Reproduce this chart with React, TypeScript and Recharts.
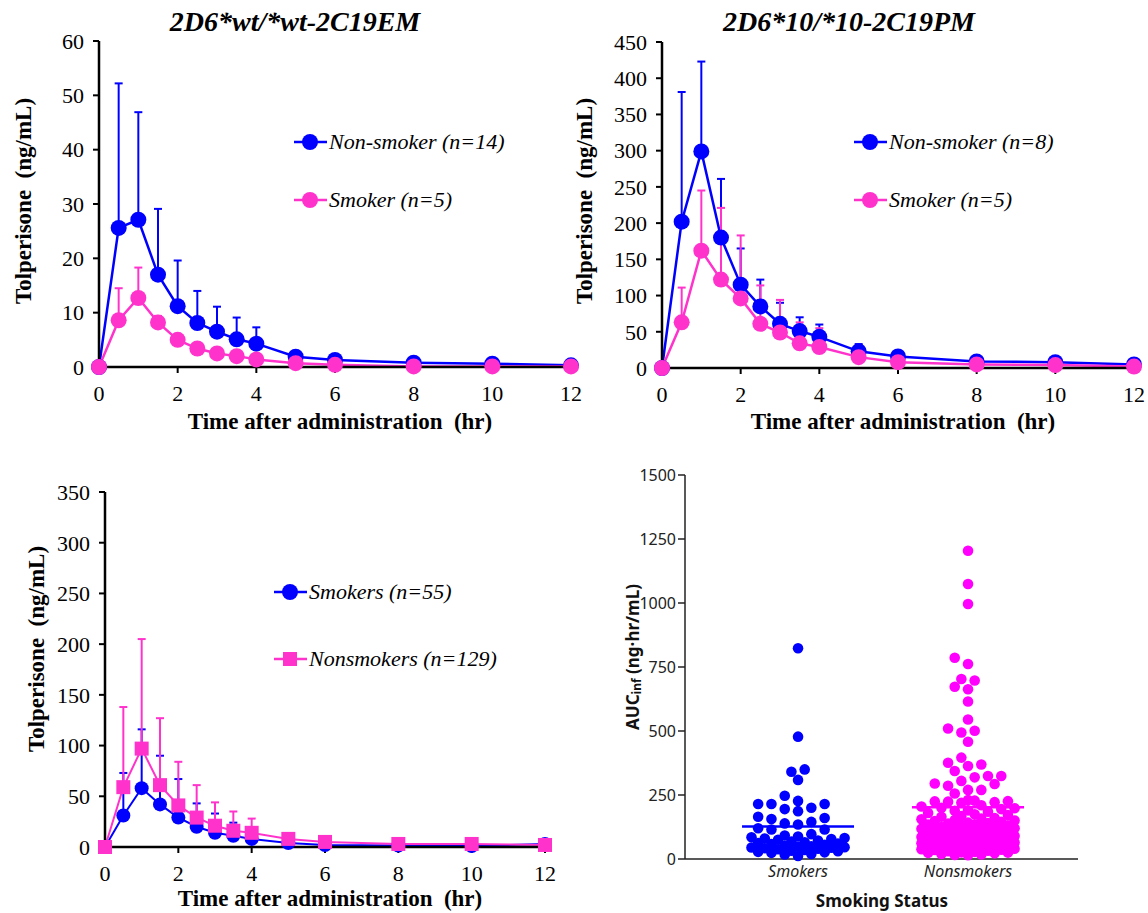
import React from "react";
import {
  LineChart,
  Line,
  XAxis,
  YAxis,
  ErrorBar,
  ScatterChart,
  Scatter,
  ReferenceLine,
  Label,
} from "recharts";

const serif = '"Liberation Serif", "Times New Roman", serif';
const sans = '"Noto Sans", "DejaVu Sans", sans-serif';
const BLUE = "#0000ff";
const PINK = "#ff33cc";
const MAGENTA = "#ff00ff";

// sampling times (hr)
const times = [0, 0.5, 1, 1.5, 2, 2.5, 3, 3.5, 4, 5, 6, 8, 10, 12];
const hourTicks = [0, 2, 4, 6, 8, 10, 12];

// 2D6*wt/*wt-2C19EM
const emNonSmokerMean = [0, 25.6, 27.1, 17.0, 11.2, 8.1, 6.5, 5.1, 4.3, 1.9, 1.3, 0.8, 0.6, 0.3];
const emNonSmokerSd = [0, 26.6, 19.8, 12.1, 8.4, 5.9, 4.6, 4.0, 3.0, 0.9, 0.5, 0.3, 0.2, 0.1];
const emSmokerMean = [0, 8.6, 12.7, 8.2, 5.0, 3.4, 2.5, 2.0, 1.4, 0.7, 0.4, 0.1, 0.1, 0.1];
const emSmokerSd = [0, 5.9, 5.6, 1.2, 1.0, 0.8, 0.6, 0.5, 0.4, 0.2, 0.2, 0.1, 0.1, 0.1];

// 2D6*10/*10-2C19PM
const pmNonSmokerMean = [0, 202, 299, 180, 115, 85, 61, 51, 43, 23, 16, 9, 8, 5];
const pmNonSmokerSd = [0, 179, 124, 81, 50, 37, 29, 19, 17, 10, 4, 3, 2, 2];
const pmSmokerMean = [0, 63, 162, 122, 96, 61, 49, 34, 29, 15, 8, 5, 4, 2];
const pmSmokerSd = [0, 48, 83, 99, 87, 53, 45, 29, 26, 6, 3, 2, 1, 1];

// all subjects
const allSmokerMean = [0, 31, 58, 42, 29, 20, 14, 11, 8, 4, 2, 1.5, 1, 3];
const allSmokerSd = [0, 42, 58, 48, 38, 23, 19, 13, 9, 3, 2, 1, 1, 1];
const allNonSmokerMean = [0, 59, 97, 61, 41, 29, 21, 16, 14, 8, 5, 3, 3, 2];
const allNonSmokerSd = [0, 79, 108, 66, 43, 32, 23, 19, 14, 5, 3, 2, 2, 1];

// AUCinf per subject (ng·hr/mL)
const smokerAuc = [
  823, 478, 341, 350, 309, 247, 215, 215, 195, 187, 200, 215, 227, 165, 160, 156, 139, 120, 115, 115, 135, 145,
  97, 92, 88, 85, 82, 80, 78, 75, 72, 68, 65, 62, 60, 58, 55, 52, 50, 48, 46, 45, 44, 42, 40, 38, 35, 32, 30,
  28, 26, 24, 20, 18, 12,
];
const nonsmokerAuc = [
  1204, 1074, 996, 786, 762, 697, 703, 673, 663, 615, 545, 501, 510, 494, 458, 396, 369, 363, 376, 344, 324, 305,
  293, 286, 295, 319, 324, 270, 270, 256,
  228, 225, 222, 220, 224, 226, 230, 205, 200, 210, 198, 195, 190, 185, 180, 188, 172, 168, 165, 175, 160, 158,
  155, 152, 150, 148, 145, 142, 140, 138, 136, 135, 132, 130, 128, 125, 124, 122, 120, 118, 116, 114, 112, 110,
  108, 106, 104, 102, 100, 98, 96, 95, 92, 90, 88, 86, 85, 84, 82, 80, 78, 76, 75, 74, 72, 70, 68, 66, 65, 64,
  62, 60, 58, 56, 55, 54, 52, 50, 48, 47, 46, 45, 44, 42, 40, 38, 36, 35, 32, 30, 28, 26, 25, 24, 22, 20, 18,
  16, 15,
];
const groupNames = ["Smokers", "Nonsmokers"];
const aucTicks = [0, 250, 500, 750, 1000, 1250, 1500];

const buildRows = (aMean: number[], aSd: number[], bMean: number[], bSd: number[]) =>
  times.map((t, i) => ({ t, a: aMean[i], aErr: [0, aSd[i]], b: bMean[i], bErr: [0, bSd[i]] }));

const mean = (v: number[]) => v.reduce((s, x) => s + x, 0) / v.length;

// simple beeswarm on a half-column grid, offsets in px
function swarm(values: number[], pxPerValue: number, minDist: number, step: number, maxOff: number) {
  const order = values.map((v, i) => ({ v, i })).sort((p, q) => p.v - q.v);
  const placed: { x: number; y: number }[] = [];
  const out = new Array(values.length).fill(0);
  order.forEach(({ v, i }, n) => {
    const y = v * pxPerValue;
    let best = 0;
    let bestD = -1;
    const cands: number[] = [0];
    for (let k = step; k <= maxOff + 0.01; k += step) n % 2 ? cands.push(-k, k) : cands.push(k, -k);
    for (const x of cands) {
      let d = Infinity;
      for (const q of placed) d = Math.min(d, Math.hypot(q.x - x, q.y - y));
      if (d >= minDist) {
        best = x;
        bestD = d;
        break;
      }
      if (d > bestD + 0.5) {
        bestD = d;
        best = x;
      }
    }
    placed.push({ x: best, y });
    out[i] = best;
  });
  return out;
}

function yTitle(text: string, cx: number, cy: number) {
  return () => (
    <text
      x={cx}
      y={cy}
      transform={`rotate(-90 ${cx} ${cy})`}
      textAnchor="middle"
      dominantBaseline="central"
      style={{ fontFamily: serif, fontWeight: 700, fontSize: 23, fill: "#000", whiteSpace: "pre" }}
    >
      {text}
    </text>
  );
}

function xTitle(text: string, cx: number, cy: number) {
  return () => (
    <text
      x={cx}
      y={cy}
      textAnchor="middle"
      dominantBaseline="central"
      style={{ fontFamily: serif, fontWeight: 700, fontSize: 23, fill: "#000", whiteSpace: "pre" }}
    >
      {text}
    </text>
  );
}

const squareDot = (color: string, s: number) => (p: any) => (
  <rect key={`sq-${p.index}`} x={p.cx - s / 2} y={p.cy - s / 2} width={s} height={s} fill={color} />
);

function LegendRow({ left, top, color, marker, text }: { left: number; top: number; color: string; marker: string; text: string }) {
  return (
    <div
      style={{
        position: "absolute",
        left,
        top: top - 13,
        height: 26,
        display: "flex",
        alignItems: "center",
        fontFamily: serif,
        fontStyle: "italic",
        fontSize: 22,
        whiteSpace: "nowrap",
      }}
    >
      <svg width={33} height={26}>
        <line x1={0} y1={13} x2={33} y2={13} stroke={color} strokeWidth={2.5} />
        {marker === "square" ? (
          <rect x={9} y={6} width={14} height={14} fill={color} />
        ) : (
          <circle cx={16} cy={13} r={8} fill={color} />
        )}
      </svg>
      <span style={{ marginLeft: 2 }}>{text}</span>
    </div>
  );
}

function Title({ cx, text }: { cx: number; text: string }) {
  return (
    <div
      style={{
        position: "absolute",
        left: cx - 200,
        width: 400,
        top: 5,
        lineHeight: "34px",
        textAlign: "center",
        fontFamily: serif,
        fontWeight: 700,
        fontStyle: "italic",
        fontSize: 28,
      }}
    >
      {text}
    </div>
  );
}

const tickStyle = { fontFamily: serif, fontSize: 22, fill: "#000" };

function PkChart(props: {
  left: number;
  top: number;
  width: number;
  height: number;
  margin: { top: number; right: number; bottom: number; left: number };
  yWidth: number;
  yMax: number;
  yTicks: number[];
  rows: any[];
  aColor: string;
  bColor: string;
  aR: number;
  bR: number;
  bSquare?: boolean;
  xLabel: [number, number];
  yLabel: [number, number];
  lineW: number;
}) {
  const p = props;
  return (
    <LineChart
      width={p.width}
      height={p.height}
      data={p.rows}
      margin={p.margin}
      style={{ position: "absolute", left: p.left, top: p.top }}
    >
      <XAxis
        type="number"
        dataKey="t"
        domain={[0, 12]}
        ticks={hourTicks}
        interval={0}
        height={60}
        tick={tickStyle}
        tickSize={6}
        tickMargin={12}
        axisLine={{ stroke: "#000", strokeWidth: 2.5 }}
        tickLine={{ stroke: "#000", strokeWidth: 2 }}
      >
        <Label content={xTitle("Time after administration  (hr)", p.xLabel[0], p.xLabel[1])} />
      </XAxis>
      <YAxis
        type="number"
        domain={[0, p.yMax]}
        ticks={p.yTicks}
        interval={0}
        width={p.yWidth}
        tick={tickStyle}
        tickSize={6}
        tickMargin={9}
        axisLine={{ stroke: "#000", strokeWidth: 2.5 }}
        tickLine={{ stroke: "#000", strokeWidth: 2 }}
      >
        <Label content={yTitle("Tolperisone  (ng/mL)", p.yLabel[0], p.yLabel[1])} />
      </YAxis>
      <Line
        dataKey="a"
        type="linear"
        stroke={p.aColor}
        strokeWidth={p.lineW}
        dot={{ r: p.aR, fill: p.aColor, stroke: p.aColor, strokeWidth: 0 }}
        activeDot={false}
        isAnimationActive={false}
      >
        <ErrorBar dataKey="aErr" direction="y" width={4} stroke={p.aColor} strokeWidth={2} />
      </Line>
      <Line
        dataKey="b"
        type="linear"
        stroke={p.bColor}
        strokeWidth={p.lineW}
        dot={p.bSquare ? squareDot(p.bColor, 14) : { r: p.bR, fill: p.bColor, stroke: p.bColor, strokeWidth: 0 }}
        activeDot={false}
        isAnimationActive={false}
      >
        <ErrorBar dataKey="bErr" direction="y" width={4} stroke={p.bColor} strokeWidth={2} />
      </Line>
    </LineChart>
  );
}

// scatter panel geometry
const SC_W = 568;
const SC_H = 453;
const SC_M = { top: 15, right: 70, bottom: 4, left: 0 };
const SC_YW = 105;
const SC_XH = 50;
const SC_DOMAIN: [number, number] = [0.335, 2.647];
const scPlotH = SC_H - SC_M.top - SC_M.bottom - SC_XH;
const scPlotW = SC_W - SC_M.left - SC_M.right - SC_YW;
const pxPerAuc = scPlotH / 1500;
const pxPerGroup = scPlotW / (SC_DOMAIN[1] - SC_DOMAIN[0]);

const toPoints = (vals: number[], g: number) => {
  const off = swarm(vals, pxPerAuc, 10, 6.65, 47);
  return vals.map((v, i) => ({ x: g + off[i] / pxPerGroup, y: v }));
};
const smokerPts = toPoints(smokerAuc, 1);
const nonsmokerPts = toPoints(nonsmokerAuc, 2);
const smokerMean = mean(smokerAuc);
const nonsmokerMean = mean(nonsmokerAuc);
const halfBar = 56 / pxPerGroup;

const dotShape = (color: string) => (p: any) => <circle cx={p.cx} cy={p.cy} r={5.3} fill={color} />;

export default function App() {
  const emRows = buildRows(emNonSmokerMean, emNonSmokerSd, emSmokerMean, emSmokerSd);
  const pmRows = buildRows(pmNonSmokerMean, pmNonSmokerSd, pmSmokerMean, pmSmokerSd);
  const allRows = buildRows(allSmokerMean, allSmokerSd, allNonSmokerMean, allNonSmokerSd);
  const scTick = { fontFamily: sans, fontSize: 16, fill: "#222" };

  return (
    <div
      style={{
        position: "absolute",
        left: 0,
        top: 0,
        width: 1148,
        height: 913,
        background: "#fff",
        overflow: "hidden",
      }}
    >
      <PkChart
        left={0}
        top={0}
        width={600}
        height={460}
        margin={{ top: 41, right: 29, bottom: 33, left: 0 }}
        yWidth={99}
        yMax={60}
        yTicks={[0, 10, 20, 30, 40, 50, 60]}
        rows={emRows}
        aColor={BLUE}
        bColor={PINK}
        aR={8}
        bR={8}
        xLabel={[340, 421]}
        yLabel={[23, 201]}
        lineW={2.5}
      />
      <PkChart
        left={570}
        top={0}
        width={578}
        height={460}
        margin={{ top: 42, right: 14, bottom: 32, left: 0 }}
        yWidth={92}
        yMax={450}
        yTicks={[0, 50, 100, 150, 200, 250, 300, 350, 400, 450]}
        rows={pmRows}
        aColor={BLUE}
        bColor={PINK}
        aR={8}
        bR={8}
        xLabel={[333, 421]}
        yLabel={[14, 201]}
        lineW={2.5}
      />
      <PkChart
        left={0}
        top={460}
        width={580}
        height={453}
        margin={{ top: 32, right: 35, bottom: 6, left: 0 }}
        yWidth={105}
        yMax={350}
        yTicks={[0, 50, 100, 150, 200, 250, 300, 350]}
        rows={allRows}
        aColor={BLUE}
        bColor={PINK}
        aR={7}
        bR={7}
        bSquare
        xLabel={[330, 438]}
        yLabel={[36, 189]}
        lineW={2}
      />

      <Title cx={295} text="2D6*wt/*wt-2C19EM" />
      <Title cx={849} text="2D6*10/*10-2C19PM" />

      <LegendRow left={294} top={142} color={BLUE} marker="circle" text="Non-smoker (n=14)" />
      <LegendRow left={294} top={200} color={PINK} marker="circle" text="Smoker (n=5)" />
      <LegendRow left={854} top={142} color={BLUE} marker="circle" text="Non-smoker (n=8)" />
      <LegendRow left={854} top={200} color={PINK} marker="circle" text="Smoker (n=5)" />
      <LegendRow left={274} top={592} color={BLUE} marker="circle" text="Smokers (n=55)" />
      <LegendRow left={274} top={659} color={PINK} marker="square" text="Nonsmokers (n=129)" />

      <ScatterChart
        width={SC_W}
        height={SC_H}
        margin={SC_M}
        style={{ position: "absolute", left: 580, top: 460 }}
      >
        <XAxis
          type="number"
          dataKey="x"
          domain={SC_DOMAIN}
          ticks={[1, 2]}
          interval={0}
          tickFormatter={(v: number) => groupNames[v - 1]}
          tickLine={false}
          tickSize={6}
          tickMargin={1}
          height={SC_XH}
          axisLine={{ stroke: "#222", strokeWidth: 1.5 }}
          tick={{ ...scTick, fontStyle: "italic" }}
        >
          <Label
            content={() => (
              <text
                x={302}
                y={440}
                textAnchor="middle"
                dominantBaseline="central"
                style={{ fontFamily: sans, fontWeight: 700, fontSize: 17, fill: "#111" }}
              >
                Smoking Status
              </text>
            )}
          />
        </XAxis>
        <YAxis
          type="number"
          dataKey="y"
          domain={[0, 1500]}
          ticks={aucTicks}
          interval={0}
          width={SC_YW}
          tickSize={7}
          tickMargin={2}
          axisLine={{ stroke: "#222", strokeWidth: 1.5 }}
          tickLine={{ stroke: "#222", strokeWidth: 1.5 }}
          tick={scTick}
        >
          <Label
            content={() => (
              <text
                x={52}
                y={197}
                transform="rotate(-90 52 197)"
                textAnchor="middle"
                dominantBaseline="central"
                style={{ fontFamily: sans, fontWeight: 700, fontSize: 17, fill: "#111" }}
              >
                <tspan>AUC</tspan>
                <tspan fontSize={12} dy={4}>
                  inf
                </tspan>
                <tspan dy={-4}> (ng·hr/mL)</tspan>
              </text>
            )}
          />
        </YAxis>
        <Scatter data={smokerPts} fill={BLUE} shape={dotShape(BLUE)} isAnimationActive={false} />
        <Scatter data={nonsmokerPts} fill={MAGENTA} shape={dotShape(MAGENTA)} isAnimationActive={false} />
        <ReferenceLine
          segment={[
            { x: 1 - halfBar, y: smokerMean },
            { x: 1 + halfBar, y: smokerMean },
          ]}
          stroke={BLUE}
          strokeWidth={2.5}
        />
        <ReferenceLine
          segment={[
            { x: 2 - halfBar, y: nonsmokerMean },
            { x: 2 + halfBar, y: nonsmokerMean },
          ]}
          stroke={MAGENTA}
          strokeWidth={2.5}
        />
      </ScatterChart>
    </div>
  );
}
